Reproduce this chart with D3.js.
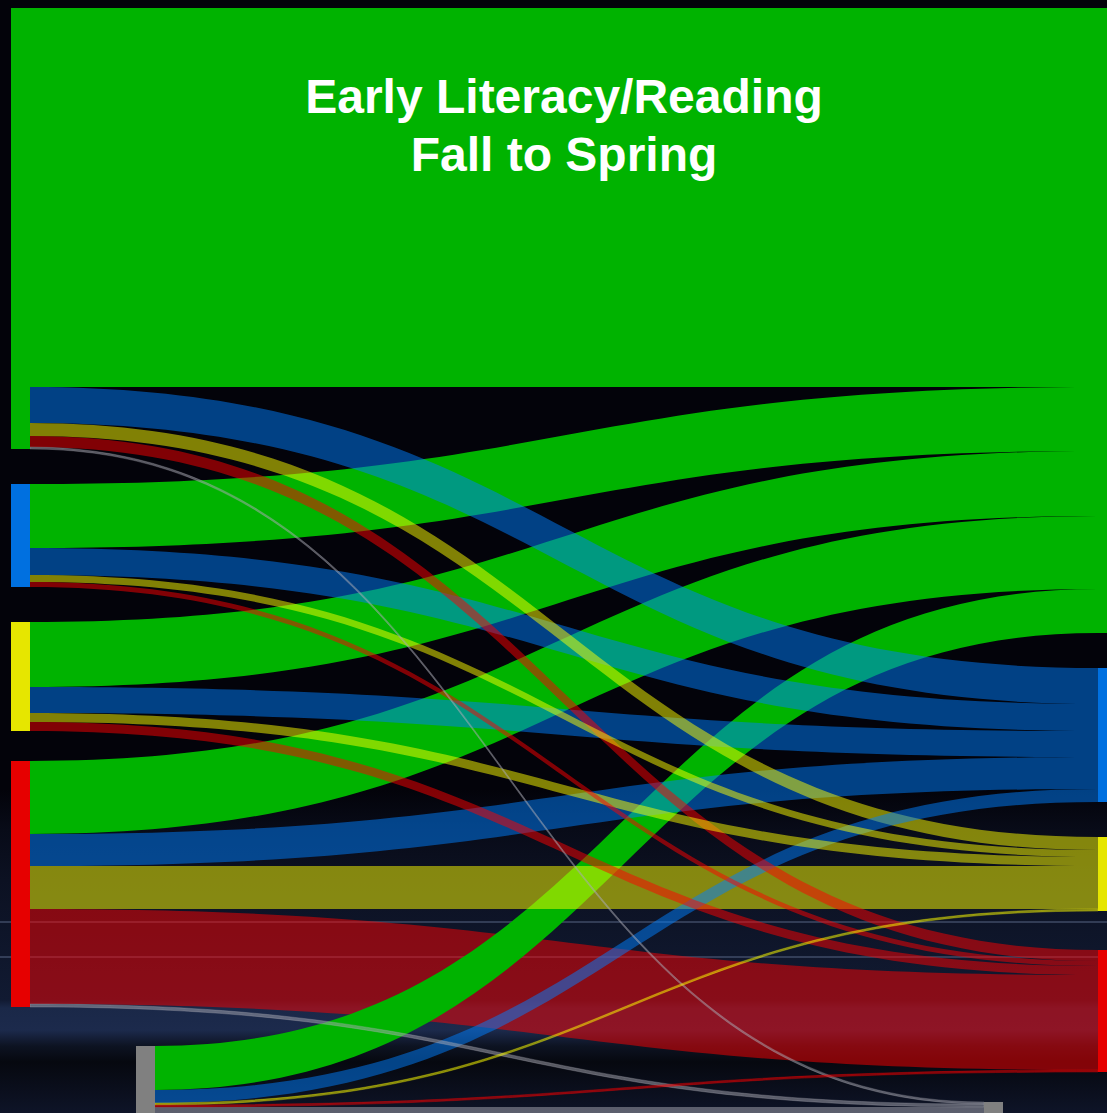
<!DOCTYPE html>
<html><head><meta charset="utf-8">
<script src="https://cdn.jsdelivr.net/npm/d3@7"></script>
<style>html,body{margin:0;padding:0;background:#03030a;overflow:hidden}</style>
</head><body>
<svg id="chart" width="1107" height="1113"></svg>
<script>
// ---- data (students moving between benchmark categories, Fall -> Spring) ----
const categories = ["At/Above Benchmark", "On Watch", "Intervention", "Urgent Intervention", "Not Tested"];
const fromBenchmark    = [379, 36, 13, 11, 2];
const fromOnWatch      = [64, 27, 7, 5, 0];
const fromIntervention = [65, 26, 9, 9, 0];
const fromUrgent       = [73, 32, 43, 95, 3];
const fromNotTested    = [44, 13, 2, 2, 6];
const titleLines = ["Early Literacy/Reading", "Fall to Spring"];

// ---- layout / style constants ----
const W = 1107, H = 1113;
const flows = [fromBenchmark, fromOnWatch, fromIntervention, fromUrgent, fromNotTested];
const nodeColors = ["#00b300", "#0070e0", "#e6e600", "#e60000", "#808080"];
const linkColors = ["#00b300", "rgba(0,128,255,0.5)", "rgba(255,255,0,0.5)", "rgba(255,0,0,0.5)", "rgba(170,170,180,0.5)"];
const nodeWidth = 19, topY = 8;
const padding = [[35, 35, 30, 39], [35, 35, 39, 30]];
const colX = [[11, 11, 11, 11, 136], [1098, 1098, 1098, 1098, 984]];

const svg = d3.select("#chart");
const defs = svg.append("defs");

// background
const bg = defs.append("linearGradient").attr("id", "bg")
  .attr("gradientUnits", "userSpaceOnUse").attr("x1", 0).attr("x2", 0).attr("y1", 0).attr("y2", H);
[[0, "#03030a"], [790, "#03030a"], [830, "#080b18"], [880, "#0c1122"], [1000, "#111a32"],
 [1008, "#1a2848"], [1030, "#1c2a4c"], [1046, "#0d1322"], [1062, "#06080f"], [1113, "#0e1428"]]
  .forEach(([yy, c]) => bg.append("stop").attr("offset", yy / H).attr("stop-color", c));
svg.append("rect").attr("width", W).attr("height", H).attr("fill", "url(#bg)");
[922, 957].forEach(yy => svg.append("rect").attr("x", 0).attr("width", W).attr("y", yy - 1).attr("height", 2)
  .attr("fill", "rgba(110,125,160,0.38)"));

// value -> pixel scale
const total = d3.sum(flows.flat());
const y = d3.scaleLinear().domain([0, total]).range([0, total]);

// nodes
const fallTotals = flows.map(r => d3.sum(r));
const springTotals = categories.map((_, j) => d3.sum(flows, r => r[j]));
function stack(totals, col) {
  let cur = topY;
  return totals.map((t, i) => {
    if (i > 0) cur += padding[col][i - 1];
    const node = { col, i, x0: colX[col][i], x1: colX[col][i] + nodeWidth, y0: cur, y1: cur + y(t) };
    cur = node.y1;
    return node;
  });
}
const fallNodes = stack(fallTotals, 0);
const springNodes = stack(springTotals, 1);

// links
const links = [];
const tOff = springNodes.map(d => d.y0);
flows.forEach((row, i) => {
  let sOff = fallNodes[i].y0;
  row.forEach((v, j) => {
    if (v <= 0) return;
    const w = y(v);
    links.push({ s: i, t: j, v, sx: fallNodes[i].x1, tx: springNodes[j].x0,
      sy0: sOff, sy1: sOff + w, ty0: tOff[j], ty1: tOff[j] + w });
    sOff += w; tOff[j] += w;
  });
});
function ribbon(l) {
  const xm = d3.interpolateNumber(l.sx, l.tx)(0.5);
  const p = d3.path();
  p.moveTo(l.sx, l.sy0);
  p.bezierCurveTo(xm, l.sy0, xm, l.ty0, l.tx, l.ty0);
  p.lineTo(l.tx, l.ty1);
  p.bezierCurveTo(xm, l.ty1, xm, l.sy1, l.sx, l.sy1);
  p.closePath();
  return p.toString();
}
const ordered = links.slice().sort((a, b) => d3.descending(a.v, b.v));
svg.append("g").selectAll("path").data(ordered).join("path")
  .attr("d", ribbon)
  .attr("fill", d => linkColors[d.t])
  .attr("stroke", d => d.v <= 3 ? linkColors[d.t] : "none")
  .attr("stroke-width", 0.6);

// nodes
const nodes = fallNodes.concat(springNodes);
svg.append("g").selectAll("rect").data(nodes).join("rect")
  .attr("x", d => d.x0).attr("y", d => d.y0)
  .attr("width", d => d.x1 - d.x0).attr("height", d => d.y1 - d.y0)
  .attr("fill", d => nodeColors[d.i]);

// title
svg.append("g").selectAll("text").data(titleLines).join("text")
  .attr("x", 564).attr("y", (d, i) => 113 + i * 58)
  .attr("text-anchor", "middle")
  .attr("fill", "#ffffff")
  .attr("font-family", "'Liberation Sans', Arial, sans-serif")
  .attr("font-weight", "bold")
  .attr("font-size", 48)
  .text(d => d);
</script>
</body></html>
